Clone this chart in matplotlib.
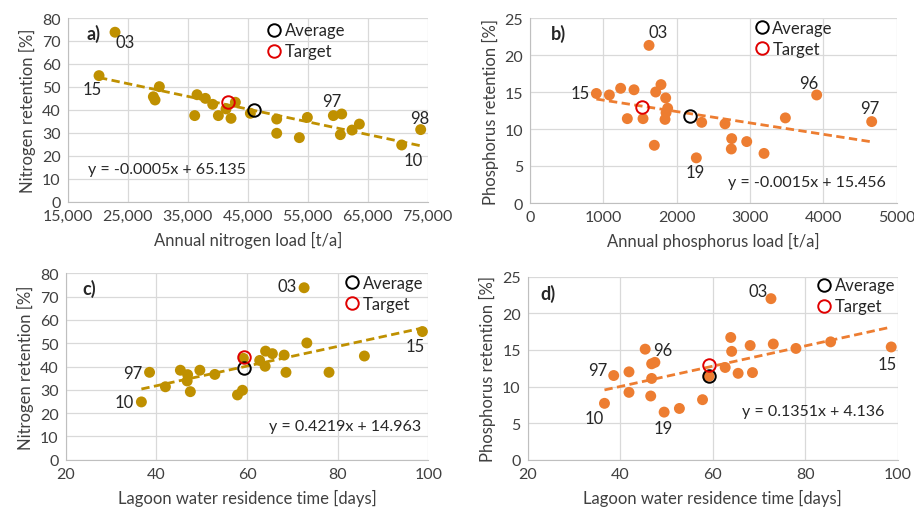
import numpy as np
import matplotlib.pyplot as plt
from matplotlib.lines import Line2D

plt.rcParams['font.family'] = ['Lato', 'DejaVu Sans']
plt.rcParams['font.size'] = 11

GOLD = '#BF9000'
ORANGE = '#ED7D31'
GRID = '#D9D9D9'

# a) nitrogen load vs nitrogen retention
a_x = [22889, 20222, 29278, 29556, 30278, 36167, 36556, 37944, 39167, 40111, 41389,
       42222, 42944, 45444, 49833, 49833, 53611, 54944, 59278, 60667, 60444, 62389,
       63611, 70667, 73833]
a_y = [73.8, 54.9, 45.7, 44.3, 50.1, 37.5, 46.6, 45.0, 42.4, 37.5, 40.4,
       36.3, 43.3, 38.5, 36.0, 29.8, 27.9, 36.7, 37.5, 38.2, 29.2, 31.2,
       33.8, 24.7, 31.4]
a_avg = (46056, 40.1)
a_tgt = (41778, 43.6)
a_lab = {0: '03', 1: '15', 18: '97', 24: '98', 23: '10'}

# b) phosphorus load vs phosphorus retention
b_x = [905, 1082, 1236, 1327, 1418, 1541, 1623, 1695, 1714, 1786, 1850, 1841,
       1877, 1855, 2268, 2341, 2659, 2750, 2745, 2955, 3191, 3482, 3909, 4659]
b_y = [14.8, 14.6, 15.5, 11.4, 15.3, 11.4, 21.3, 7.8, 15.0, 16.0, 14.2, 11.3,
       12.8, 12.2, 6.1, 10.9, 10.7, 8.7, 7.3, 8.3, 6.7, 11.5, 14.6, 11.0]
b_avg = (2186, 11.8)
b_tgt = (1532, 13.0)
b_lab = {0: '15', 6: '03', 14: '19', 22: '96', 23: '97'}

# c) residence time vs nitrogen retention
c_x = [72.6, 98.7, 73.2, 85.9, 38.5, 36.7, 42.0, 45.3, 46.9, 46.8, 47.5, 49.6,
       52.9, 57.9, 59.0, 59.2, 62.8, 64.0, 64.1, 65.6, 68.2, 68.6, 78.1]
c_y = [73.8, 55.0, 50.1, 44.5, 37.5, 24.8, 31.3, 38.4, 36.5, 33.8, 29.2, 38.4,
       36.6, 27.8, 29.8, 43.5, 42.6, 40.1, 46.6, 45.5, 44.9, 37.5, 37.5]
c_avg = (59.3, 39.5)
c_tgt = (59.3, 44.2)
c_lab = {0: '03', 1: '15', 4: '97', 5: '10'}

# d) residence time vs phosphorus retention
d_x = [72.6, 85.5, 98.6, 78.0, 73.1, 68.1, 63.9, 64.1, 62.7, 65.5, 68.6, 59.2,
       57.8, 52.8, 49.5, 46.6, 46.8, 45.4, 46.8, 47.5, 41.9, 41.9, 38.6, 36.6]
d_y = [22.0, 16.1, 15.4, 15.2, 15.8, 15.6, 16.7, 14.8, 12.6, 11.8, 11.9, 11.4,
       8.2, 7.0, 6.5, 8.7, 11.1, 15.1, 13.1, 13.3, 12.0, 9.2, 11.5, 7.7]
d_avg = (59.2, 11.4)
d_tgt = (59.2, 12.9)
d_lab = {0: '03', 19: '96', 22: '97', 23: '10', 14: '19', 2: '15'}

# label offsets in pixels (text centre relative to point)
a_off = {'03': (10, -10), '15': (-7, -13), '97': (-2, 15), '98': (-1, 12), '10': (12, -15)}
b_off = {'15': (-16, 0), '03': (9, 13), '19': (-1, -14), '96': (-8, 12), '97': (-2, 14)}
c_off = {'03': (-17, 2), '15': (-7, -14), '97': (-17, -1), '10': (-17, 0)}
d_off = {'03': (-13, 8), '96': (8, 12), '97': (-16, 6), '10': (-10, -15), '19': (-1, -16), '15': (-4, -17)}

fig = plt.figure(figsize=(9.14, 5.10), dpi=100)
W, H = 914, 510


def make_ax(l, t, r, b):
    return fig.add_axes([l / W, 1 - b / H, (r - l) / W, (b - t) / H])


def panel(ax, x, y, avg, tgt, labels, offs, color, eq, eqpos, tag, tagpos, legpos,
          xlim, xticks, ylim, yticks, xlabel, ylabel, xfmt=None):
    ax.set_axisbelow(True)
    ax.grid(True, color=GRID, linewidth=0.9)
    for s in ['top', 'right']:
        ax.spines[s].set_visible(False)
    for s in ['left', 'bottom']:
        ax.spines[s].set_color('#BFBFBF')
    ax.tick_params(length=0, labelsize=11.5, colors='#404040', pad=5)
    ax.set_xlim(xlim)
    ax.set_ylim(ylim)
    ax.set_xticks(xticks)
    ax.set_yticks(yticks)
    if xfmt:
        ax.set_xticklabels([xfmt(v) for v in xticks])

    x = np.array(x, float)
    y = np.array(y, float)
    k, c0 = np.polyfit(x, y, 1)
    xx = np.array([x.min(), x.max()])
    ax.plot(xx, k * xx + c0, '--', color=color, lw=2, dashes=(3, 1.6), zorder=2)
    ax.scatter(x, y, s=62, color=color, edgecolors='none', zorder=3)
    ax.plot(*avg, 'o', ms=9, mfc='none', mec='black', mew=1.4, zorder=4)
    ax.plot(*tgt, 'o', ms=9, mfc='none', mec='#E00000', mew=1.4, zorder=4)

    for i, txt in labels.items():
        ax.annotate(txt, (x[i], y[i]), xytext=offs[txt], textcoords='offset pixels',
                    ha='center', va='center', fontsize=12, color='#262626')

    ax.text(*eqpos, eq, transform=ax.transAxes, ha='center', va='center',
            fontsize=11.5, color='#262626')
    ax.text(*tagpos, tag, transform=ax.transAxes, ha='center', va='center',
            fontsize=13, fontweight='bold', color='#262626')

    h = [Line2D([], [], ls='none', marker='o', ms=9, mfc='none', mec='black', mew=1.4),
         Line2D([], [], ls='none', marker='o', ms=9, mfc='none', mec='#E00000', mew=1.4)]
    ax.legend(h, ['Average', 'Target'], loc='center left', bbox_to_anchor=legpos,
              frameon=False, handletextpad=0.25, labelspacing=0.3, borderaxespad=0,
              handlelength=0.8, fontsize=12, labelcolor='#262626')

    ax.set_xlabel(xlabel, fontsize=12, color='#404040', labelpad=6)
    ax.set_ylabel(ylabel, fontsize=12, color='#404040', labelpad=4)


ax_a = make_ax(67.7, 19, 427.7, 202.7)
panel(ax_a, a_x, a_y, a_avg, a_tgt, a_lab, a_off, GOLD, 'y = -0.0005x + 65.135',
      (0.275, 0.18), 'a)', (0.071, 0.92), (0.535, 0.875),
      (15000, 75000), range(15000, 75001, 10000), (0, 80), range(0, 81, 10),
      'Annual nitrogen load [t/a]', 'Nitrogen retention [%]', xfmt=lambda v: f'{v:,}')

ax_b = make_ax(530, 19, 896.7, 204)
panel(ax_b, b_x, b_y, b_avg, b_tgt, b_lab, b_off, ORANGE, 'y = -0.0015x + 15.456',
      (0.755, 0.115), 'b)', (0.077, 0.92), (0.595, 0.89),
      (0, 5000), range(0, 5001, 1000), (0, 25), range(0, 26, 5),
      'Annual phosphorus load [t/a]', 'Phosphorus retention [%]')

ax_c = make_ax(65.7, 274.3, 428.3, 460.7)
panel(ax_c, c_x, c_y, c_avg, c_tgt, c_lab, c_off, GOLD, 'y = 0.4219x + 14.963',
      (0.77, 0.18), 'c)', (0.065, 0.92), (0.753, 0.893),
      (20, 100), range(20, 101, 20), (0, 80), range(0, 81, 10),
      'Lagoon water residence time [days]', 'Nitrogen retention [%]')

ax_d = make_ax(527.7, 277.7, 897.7, 460.7)
panel(ax_d, d_x, d_y, d_avg, d_tgt, d_lab, d_off, ORANGE, 'y = 0.1351x + 4.136',
      (0.772, 0.264), 'd)', (0.056, 0.91), (0.765, 0.895),
      (20, 100), range(20, 101, 20), (0, 25), range(0, 26, 5),
      'Lagoon water residence time [days]', 'Phosphorus retention [%]')

fig.savefig('out.png', dpi=100)
